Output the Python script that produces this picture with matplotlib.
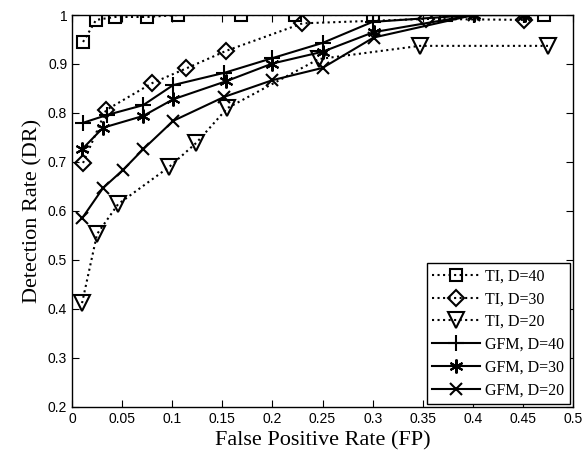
import matplotlib
matplotlib.use("Agg")
import matplotlib.pyplot as plt

# TI curves
ti40_x = [0.011, 0.024, 0.043, 0.075, 0.106, 0.169, 0.223, 0.300, 0.373, 0.471]
ti40_y = [0.945, 0.990, 0.996, 0.996, 1.000, 1.000, 1.000, 1.000, 1.000, 1.000]
ti30_x = [0.011, 0.034, 0.080, 0.114, 0.154, 0.230, 0.353, 0.451]
ti30_y = [0.698, 0.806, 0.861, 0.891, 0.927, 0.983, 0.992, 0.990]
ti20_x = [0.010, 0.025, 0.046, 0.097, 0.124, 0.155, 0.246, 0.347, 0.475]
ti20_y = [0.412, 0.553, 0.614, 0.690, 0.739, 0.810, 0.910, 0.937, 0.937]

# GFM curves
gfm40_x = [0.011, 0.035, 0.071, 0.101, 0.152, 0.200, 0.250, 0.300, 0.401, 0.451]
gfm40_y = [0.780, 0.796, 0.816, 0.857, 0.882, 0.912, 0.943, 0.986, 1.000, 1.000]
gfm30_x = [0.010, 0.031, 0.071, 0.101, 0.154, 0.200, 0.250, 0.301, 0.401, 0.452]
gfm30_y = [0.726, 0.770, 0.794, 0.828, 0.865, 0.901, 0.925, 0.965, 1.000, 1.000]
gfm20_x = [0.010, 0.031, 0.051, 0.071, 0.101, 0.152, 0.200, 0.250, 0.301, 0.401, 0.451]
gfm20_y = [0.585, 0.647, 0.684, 0.726, 0.784, 0.833, 0.867, 0.892, 0.954, 1.000, 1.000]

fig = plt.figure(figsize=(5.87, 4.63), dpi=100)
ax = fig.add_axes([0.1227, 0.121, 0.8535, 0.8466])

dot = dict(color="black", linestyle=":", linewidth=1.5, markersize=9,
           markerfacecolor="none", markeredgewidth=1.5)
sol = dict(color="black", linestyle="-", linewidth=1.5, markersize=11,
           markeredgewidth=1.5)

ax.plot(ti40_x, ti40_y, marker="s", label="TI, D=40", **dot)
ax.plot(ti30_x, ti30_y, marker="D", label="TI, D=30", **dict(dot, markersize=8))
ax.plot(ti20_x, ti20_y, marker="v", label="TI, D=20", **dict(dot, markersize=11))
ax.plot(gfm40_x, gfm40_y, marker="+", label="GFM, D=40", **sol)
ax.plot(gfm30_x, gfm30_y, marker=(6, 2, 0), label="GFM, D=30", **dict(sol, markersize=10))
ax.plot(gfm20_x, gfm20_y, marker="x", label="GFM, D=20", **dict(sol, markersize=9))

ax.set_xlim(0, 0.5)
ax.set_ylim(0.2, 1.0)
ax.set_xticks([0, 0.05, 0.1, 0.15, 0.2, 0.25, 0.3, 0.35, 0.4, 0.45, 0.5])
ax.set_xticklabels(["0", "0.05", "0.1", "0.15", "0.2", "0.25", "0.3", "0.35", "0.4", "0.45", "0.5"])
ax.set_yticks([0.2, 0.3, 0.4, 0.5, 0.6, 0.7, 0.8, 0.9, 1.0])
ax.set_yticklabels(["0.2", "0.3", "0.4", "0.5", "0.6", "0.7", "0.8", "0.9", "1"])
ax.tick_params(direction="in", top=True, right=True, length=5, labelsize=10)
for t in ax.get_xticklabels() + ax.get_yticklabels():
    t.set_family("Liberation Sans")
for s in ax.spines.values():
    s.set_linewidth(1.0)

ax.set_xlabel("False Positive Rate (FP)", family="Liberation Serif", fontsize=16, labelpad=4)
ax.set_ylabel("Detection Rate (DR)", family="Liberation Serif", fontsize=16, labelpad=4)

leg = ax.legend(loc="lower right", prop={"family": "Liberation Serif", "size": 11.5},
                fancybox=False, edgecolor="black", framealpha=1, handlelength=3,
                labelspacing=0.42, borderpad=0.35, handletextpad=0.3,
                borderaxespad=0.2)
leg.get_frame().set_linewidth(1.0)

fig.savefig("out.png", dpi=100)
